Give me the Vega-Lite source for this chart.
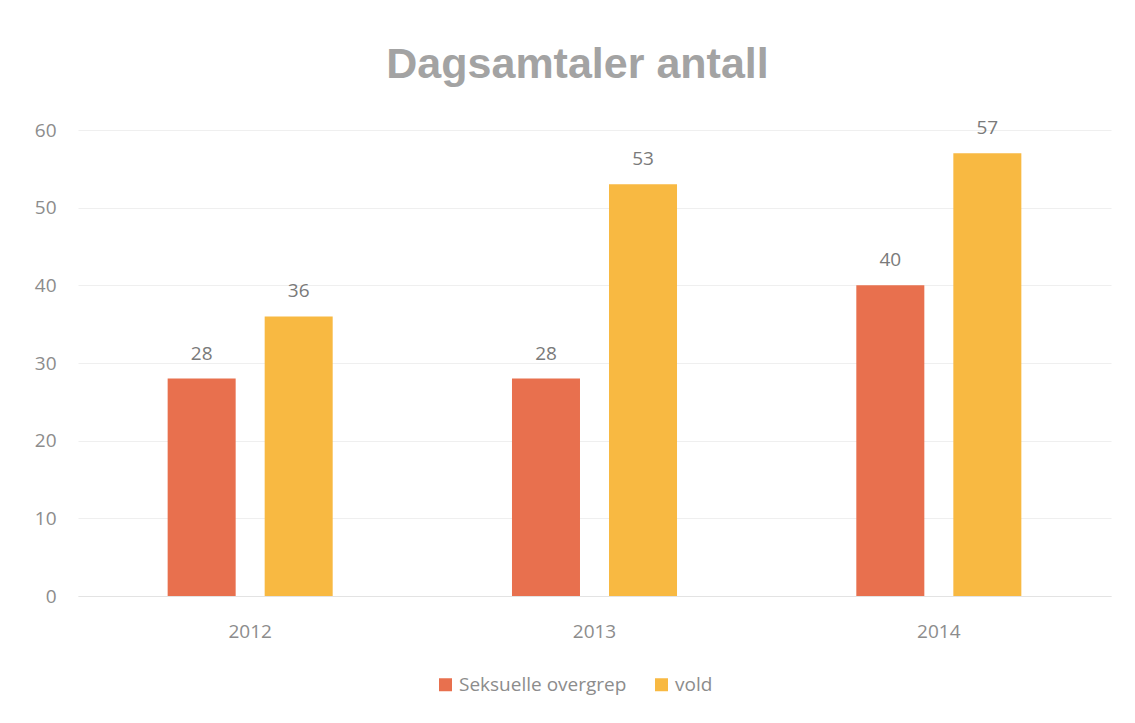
{
  "$schema": "https://vega.github.io/schema/vega-lite/v6.json",
  "autosize": {"type": "none"},
  "width": 1033,
  "height": 466,
  "padding": {"left": 78, "top": 130, "right": 24, "bottom": 127},
  "background": "white",
  "title": {
    "text": "Dagsamtaler antall",
    "font": "Liberation Sans",
    "fontSize": 43,
    "fontWeight": "bold",
    "color": "#a3a3a3",
    "anchor": "middle",
    "offset": 32,
    "dx": -17
  },
  "data": {
    "values": [
      {"year": "2012", "serie": "Seksuelle overgrep", "value": 28},
      {"year": "2012", "serie": "vold", "value": 36},
      {"year": "2013", "serie": "Seksuelle overgrep", "value": 28},
      {"year": "2013", "serie": "vold", "value": 53},
      {"year": "2014", "serie": "Seksuelle overgrep", "value": 40},
      {"year": "2014", "serie": "vold", "value": 57}
    ]
  },
  "encoding": {
    "x": {
      "field": "year", "type": "nominal",
      "scale": {"paddingInner": 0, "paddingOuter": 0},
      "axis": {"title": null, "labelAngle": 0, "ticks": false, "domainColor": "#e3e3e3", "labelFont": "Open Sans", "labelFontSize": 19, "labelColor": "#8c8c8c", "labelPadding": 26, "grid": false}
    },
    "xOffset": {
      "field": "serie", "type": "nominal",
      "scale": {"paddingInner": 0.299, "paddingOuter": 0.924}
    },
    "y": {
      "field": "value", "type": "quantitative",
      "scale": {"domain": [0, 60]},
      "axis": {"title": null, "values": [0, 10, 20, 30, 40, 50, 60], "ticks": false, "domain": false, "gridColor": "#efefef", "labelFont": "Open Sans", "labelFontSize": 19, "labelColor": "#8c8c8c", "labelPadding": 22}
    },
    "color": {
      "field": "serie", "type": "nominal",
      "scale": {"domain": ["Seksuelle overgrep", "vold"], "range": ["#e8704e", "#f8b942"]},
      "legend": {
        "title": null, "orient": "none", "direction": "horizontal",
        "legendX": 358, "legendY": 545,
        "symbolType": "square", "symbolSize": 169, "symbolStrokeWidth": 0,
        "labelFont": "Open Sans", "labelFontSize": 19, "labelColor": "#8c8c8c",
        "labelLimit": 400, "columnPadding": 25
      }
    }
  },
  "layer": [
    {"mark": {"type": "bar"}},
    {
      "mark": {"type": "text", "dy": -25, "font": "Open Sans", "fontSize": 19},
      "encoding": {
        "text": {"field": "value", "type": "quantitative"},
        "color": {"value": "#7a7a7a"}
      }
    }
  ],
  "config": {"view": {"stroke": null}}
}
